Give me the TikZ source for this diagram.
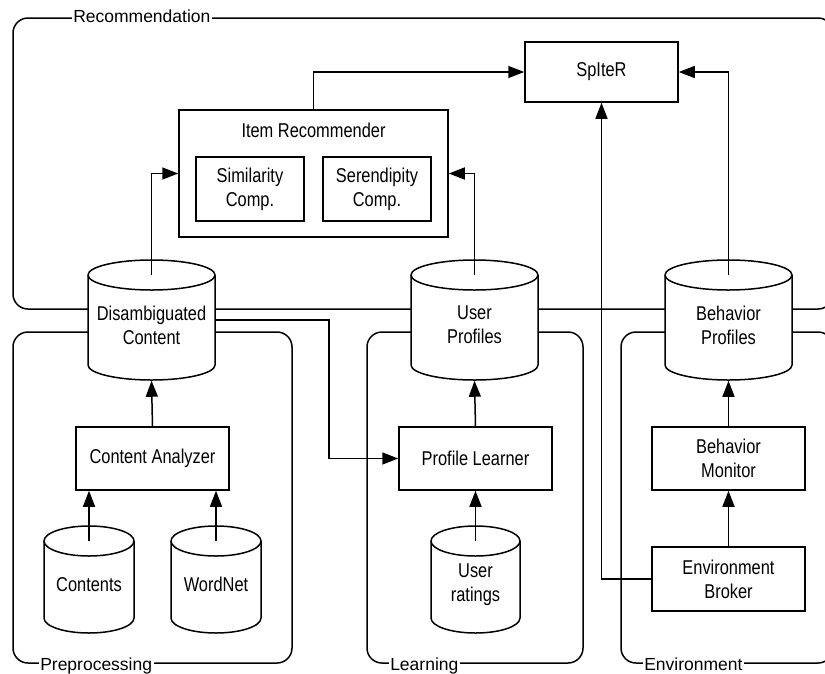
\documentclass[tikz,border=0pt]{standalone}
\usepackage{fontspec}
\setmainfont{Liberation Sans}
\newfontfamily\narrowfont{Liberation Sans}[FakeStretch=0.82]
\usetikzlibrary{arrows.meta,calc}

\tikzset{
  labelfont/.style={font=\narrowfont\fontsize{20}{24}\selectfont},
  box/.style={draw, fill=white, inner sep=0pt, align=center, labelfont},
  txt/.style={inner sep=0pt, align=center, labelfont},
  arr/.style={-{Triangle[length=16pt,width=12pt]}},
  frame/.style={draw, rounded corners=15pt},
  grouplabel/.style={fill=white, inner xsep=1.5pt, inner ysep=1pt,
    font=\fontsize{17.5}{20}\selectfont},
}

% database drum: name, centre x, centre y, width, height, text
\newcommand\dbstore[6]{%
  \pgfmathsetmacro\cylL{#2-#4/2}%
  \pgfmathsetmacro\cylR{#2+#4/2}%
  \pgfmathsetmacro\cylT{#3-#5/2+15}%
  \pgfmathsetmacro\cylB{#3+#5/2-15}%
  \pgfmathsetmacro\cylRx{#4/2}%
  \draw[fill=white] (\cylL,\cylT) -- (\cylL,\cylB)
    arc[start angle=180, end angle=0, x radius=\cylRx, y radius=15]
    -- (\cylR,\cylT)
    arc[start angle=0, end angle=-180, x radius=\cylRx, y radius=15] -- cycle;
  \draw (\cylL,\cylT) arc[start angle=180, end angle=0, x radius=\cylRx, y radius=15];
  \node[minimum width=#4, minimum height=#5, inner sep=0pt] (#1) at (#2,#3) {};
  \coordinate (#1-top) at (#2,\cylT);
  \node[txt] (#1-text) at (#2,#3+5) {#6};
}

\begin{document}
\begin{tikzpicture}[x=1pt, y=-1pt, line width=1.5pt]
\useasboundingbox (0,0) rectangle (825,673);

% group frames
\draw[frame] (13,18) rectangle (833,309);
\draw[frame] (13,332) rectangle (292,663);
\draw[frame] (367,332) rectangle (583,663);
\draw[frame] (621,332) rectangle (833,663);
\node[grouplabel, anchor=base west] (grec) at (71,22.5) {Recommendation};
\node[grouplabel, anchor=base west] (gpre) at (38,670) {Preprocessing};
\node[grouplabel, anchor=base west] (glea) at (388,670) {Learning};
\node[grouplabel, anchor=base west] (genv) at (642,670) {Environment};

% recommendation layer
\node[box, minimum width=153, minimum height=60] (sp) at (601.5,72) {SpIteR};
\node[box, minimum width=269, minimum height=127] (ir) at (313.5,173.5) {};
\node[txt] (irt) at (313.5,130) {Item Recommender};
\node[box, minimum width=108, minimum height=64] (sim) at (250,189) {Similarity\\Comp.};
\node[box, minimum width=108, minimum height=64] (ser) at (377,189) {Serendipity\\Comp.};

% profile stores
\dbstore{dc}{151.5}{320}{127}{120}{Disambiguated\\Content}
\dbstore{up}{474.5}{320}{127}{120}{User\\Profiles}
\dbstore{bp}{728.5}{320}{127}{120}{Behavior\\Profiles}

% preprocessing
\node[box, minimum width=153, minimum height=63] (ca) at (152.5,458.5) {Content Analyzer};
\dbstore{ct}{89}{579.5}{90}{107}{Contents}
\dbstore{wn}{216}{579.5}{90}{107}{WordNet}

% learning
\node[box, minimum width=153, minimum height=63] (pl) at (475.5,458.5) {Profile Learner};
\dbstore{ur}{475.5}{579.5}{89}{107}{User\\ratings}

% environment
\node[box, minimum width=153, minimum height=63] (bm) at (728.5,458.5) {Behavior\\Monitor};
\node[box, minimum width=153, minimum height=64] (eb) at (728.5,579) {Environment\\Broker};

% connectors
\coordinate (bend) at (329,0);
\draw[arr] (ir.north) |- (sp.west);
\draw[arr] (dc-top) |- (ir.west);
\draw[arr] (up-top) |- (ir.east);
\draw[arr] (bp-top) |- (sp.east);
\draw[arr] (eb.west) -| (sp.south);
\draw[arr] (ca.north) -- (dc.south);
\draw[arr] (ct-top) -- (ct-top |- ca.south);
\draw[arr] (wn-top) -- (wn-top |- ca.south);
\draw[arr] (dc.east) -- (dc.east -| bend) |- (pl.west);
\draw[arr] (pl.north) -- (up.south);
\draw[arr] (ur-top) -- (ur-top |- pl.south);
\draw[arr] (bm.north) -- (bp.south);
\draw[arr] (eb.north) -- (bm.south);
\end{tikzpicture}
\end{document}
